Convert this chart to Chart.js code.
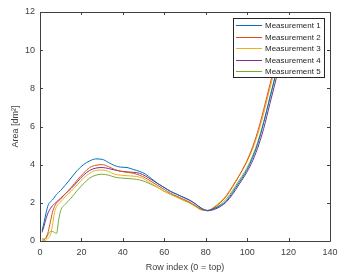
<!DOCTYPE html>
<html>
<head>
<meta charset="utf-8">
<script src="https://cdn.jsdelivr.net/npm/chart.js@4"></script>
<style>
  html, body { margin: 0; padding: 0; background: #fff; }
  #wrap { width: 357px; height: 279px; }
</style>
</head>
<body>
<div id="wrap"><canvas id="c" width="357" height="279"></canvas></div>
<script>
const rowIndex = [1, 2, 3, 4, 5, 6, 7, 8, 9, 10, 12, 15, 18, 21, 24, 27, 30, 33, 36, 39, 42, 45, 48, 51, 54, 57, 60, 63, 66, 69, 72, 75, 78, 81, 84, 87, 90, 93, 96, 99, 102, 105, 108, 111, 114, 117, 120];

const meas1 = [0.55, 1.0, 1.5, 1.9, 2.05, 2.15, 2.3, 2.45, 2.55, 2.65, 2.9, 3.3, 3.7, 4.0, 4.2, 4.3, 4.28, 4.12, 3.95, 3.87, 3.85, 3.75, 3.65, 3.5, 3.25, 3.0, 2.8, 2.6, 2.45, 2.3, 2.15, 1.95, 1.7, 1.6, 1.7, 1.85, 2.1, 2.55, 3.05, 3.55, 4.2, 5.05, 6.2, 7.5, 8.8, 10.1, 11.4];
const meas2 = [0.1, 0.1, 0.2, 0.5, 1.0, 1.5, 1.8, 2.0, 2.1, 2.2, 2.45, 2.8, 3.2, 3.55, 3.85, 3.97, 4.0, 3.9, 3.75, 3.65, 3.6, 3.55, 3.45, 3.3, 3.1, 2.9, 2.7, 2.5, 2.35, 2.2, 2.05, 1.85, 1.65, 1.6, 1.75, 2.0, 2.35, 2.85, 3.4, 4.0, 4.75, 5.7, 6.9, 8.2, 9.5, 10.8, 11.7];
const meas3 = [0.0, 0.02, 0.05, 0.15, 0.3, 0.8, 1.5, 1.8, 1.95, 2.05, 2.3, 2.6, 2.95, 3.3, 3.55, 3.7, 3.72, 3.65, 3.5, 3.45, 3.42, 3.4, 3.35, 3.2, 3.0, 2.8, 2.6, 2.45, 2.3, 2.15, 2.0, 1.8, 1.62, 1.6, 1.78, 2.05, 2.4, 2.9, 3.4, 3.95, 4.65, 5.55, 6.7, 8.0, 9.3, 10.6, 11.6];
const meas4 = [0.45, 0.8, 1.2, 1.5, 1.7, 1.85, 1.95, 2.05, 2.15, 2.25, 2.45, 2.75, 3.1, 3.45, 3.7, 3.82, 3.85, 3.8, 3.72, 3.66, 3.62, 3.6, 3.55, 3.4, 3.2, 3.0, 2.8, 2.6, 2.45, 2.3, 2.15, 1.95, 1.72, 1.58, 1.65, 1.8, 2.05, 2.45, 2.95, 3.45, 4.05, 4.85, 5.9, 7.2, 8.5, 9.8, 11.1];
const meas5 = [0.0, 0.05, 0.15, 0.35, 0.5, 0.5, 0.45, 0.4, 1.1, 1.6, 1.9, 2.25, 2.65, 3.0, 3.3, 3.45, 3.5, 3.45, 3.35, 3.3, 3.28, 3.25, 3.2, 3.1, 2.95, 2.8, 2.6, 2.45, 2.3, 2.15, 2.0, 1.85, 1.65, 1.6, 1.7, 1.9, 2.2, 2.65, 3.15, 3.65, 4.3, 5.15, 6.25, 7.55, 8.85, 10.15, 11.45];

const seriesNames = ['Measurement 1', 'Measurement 2', 'Measurement 3', 'Measurement 4', 'Measurement 5'];
const seriesValues = [meas1, meas2, meas3, meas4, meas5];
const seriesColors = ['#0072BD', '#D95319', '#EDB120', '#7E2F8E', '#77AC30'];

const xTicks = [0, 20, 40, 60, 80, 100, 120, 140];
const yTicks = [0, 2, 4, 6, 8, 10, 12];

const axisColor = '#404040';
const fontFamily = 'Arial, "Liberation Sans", sans-serif';

// matlab style box with inward ticks, plus the boxed legend
const boxPlugin = {
  id: 'matlabBox',
  afterDatasetsDraw(chart) {
    const { ctx, chartArea: a, scales } = chart;
    ctx.save();
    ctx.strokeStyle = axisColor;
    ctx.lineWidth = 1;
    ctx.beginPath();
    ctx.rect(Math.round(a.left) + 0.5, Math.round(a.top) + 0.5, Math.round(a.right - a.left), Math.round(a.bottom - a.top));
    ctx.stroke();

    const tl = 3;
    ctx.beginPath();
    xTicks.forEach(v => {
      const px = Math.round(scales.x.getPixelForValue(v)) + 0.5;
      ctx.moveTo(px, a.bottom); ctx.lineTo(px, a.bottom - tl);
      ctx.moveTo(px, a.top); ctx.lineTo(px, a.top + tl);
    });
    yTicks.forEach(v => {
      const py = Math.round(scales.y.getPixelForValue(v)) + 0.5;
      ctx.moveTo(a.left, py); ctx.lineTo(a.left + tl, py);
      ctx.moveTo(a.right, py); ctx.lineTo(a.right - tl, py);
    });
    ctx.stroke();

    // legend
    const lx = 233, ly = 18, lw = 91, lh = 59, row = 11.6;
    ctx.fillStyle = '#fff';
    ctx.fillRect(lx, ly, lw, lh);
    ctx.strokeStyle = '#262626';
    ctx.strokeRect(lx + 0.5, ly + 0.5, lw, lh);
    ctx.font = '8px ' + fontFamily;
    ctx.textBaseline = 'middle';
    ctx.textAlign = 'left';
    chart.data.datasets.forEach((ds, i) => {
      const y = Math.round(ly + 7 + i * row);
      ctx.strokeStyle = seriesColors[i];
      ctx.lineWidth = 1;
      ctx.beginPath();
      ctx.moveTo(lx + 3, y + 0.5);
      ctx.lineTo(lx + 29, y + 0.5);
      ctx.stroke();
      ctx.fillStyle = '#262626';
      ctx.fillText(ds.label, lx + 32, y + 0.5);
    });
    ctx.restore();
  }
};

new Chart(document.getElementById('c'), {
  type: 'line',
  data: {
    labels: rowIndex,
    datasets: seriesNames.map((name, i) => ({
      label: name,
      data: rowIndex.map((x, j) => ({ x: x, y: seriesValues[i][j] })),
      borderColor: seriesColors[i],
      backgroundColor: seriesColors[i],
      borderWidth: 1,
      pointRadius: 0,
      cubicInterpolationMode: 'monotone',
      fill: false
    }))
  },
  options: {
    responsive: false,
    animation: false,
    layout: { padding: { top: 12, right: 27, left: 10, bottom: 0 } },
    plugins: { legend: { display: false }, tooltip: { enabled: false } },
    scales: {
      x: {
        type: 'linear',
        min: 0, max: 140,
        afterFit: s => { s.height = 38; },
        afterBuildTicks: s => { s.ticks = xTicks.map(v => ({ value: v })); },
        grid: { display: false, drawTicks: false },
        border: { display: false },
        ticks: { color: axisColor, font: { size: 9, family: fontFamily }, padding: 6, maxRotation: 0 },
        title: { display: true, text: 'Row index (0 = top)', color: axisColor, font: { size: 9, family: fontFamily }, padding: { top: 2, bottom: 6 } }
      },
      y: {
        min: 0, max: 12,
        afterFit: s => { s.width = 30; },
        afterBuildTicks: s => { s.ticks = yTicks.map(v => ({ value: v })); },
        grid: { display: false, drawTicks: false },
        border: { display: false },
        ticks: { color: axisColor, font: { size: 9, family: fontFamily }, padding: 5 },
        title: { display: true, text: 'Area [dm²]', color: axisColor, font: { size: 9, family: fontFamily }, padding: { top: 0, bottom: 4 } }
      }
    }
  },
  plugins: [boxPlugin]
});
</script>
</body>
</html>
